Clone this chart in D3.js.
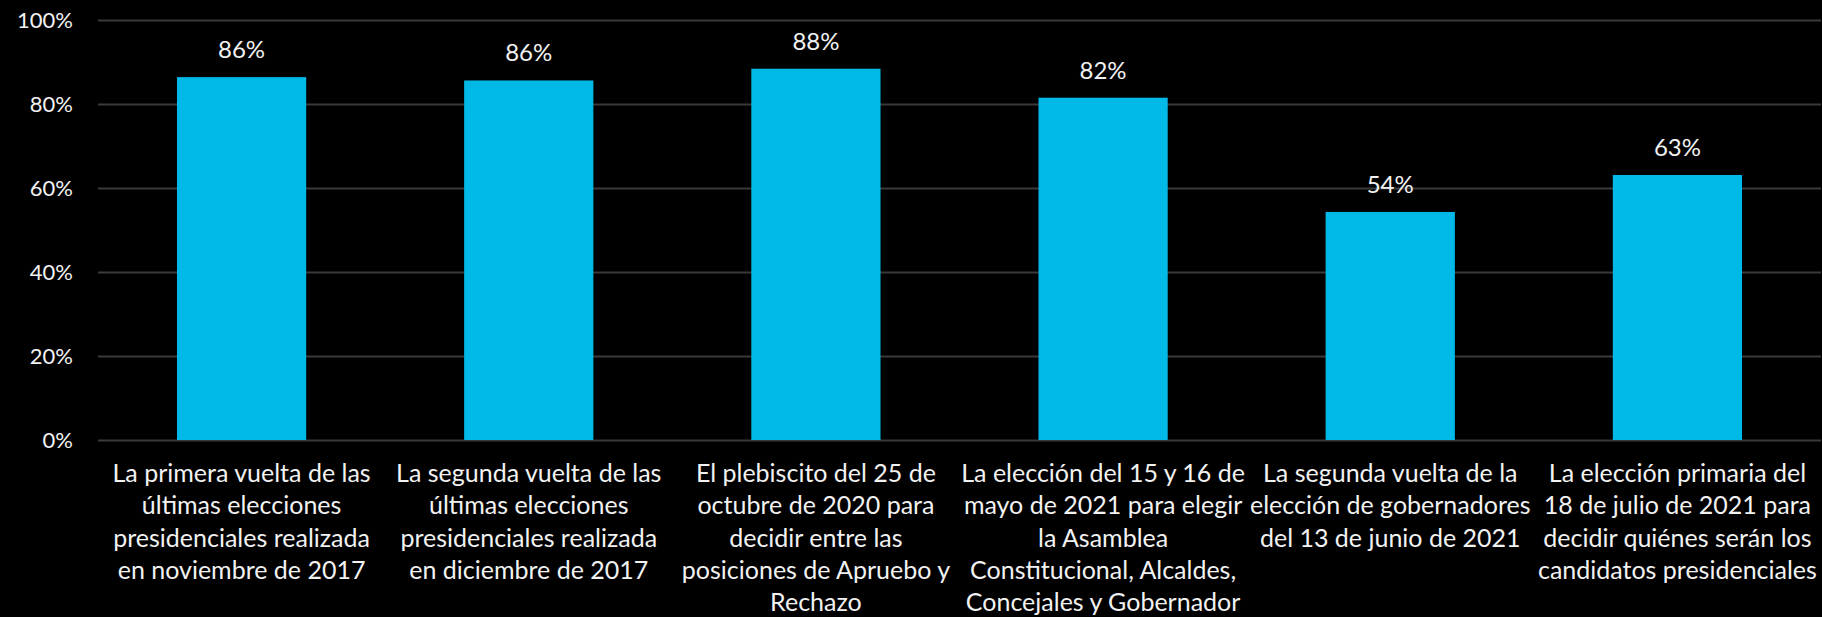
<!DOCTYPE html>
<html>
<head>
<meta charset="utf-8">
<script src="https://cdn.jsdelivr.net/npm/d3@7"></script>
<style>
  html, body { margin: 0; padding: 0; background: #000; }
  svg { display: block; }
</style>
</head>
<body>
<script>
// categories, one array of lines per bar
const categories = [
  ["La primera vuelta de las", "últimas elecciones", "presidenciales realizada", "en noviembre de 2017"],
  ["La segunda vuelta de las", "últimas elecciones", "presidenciales realizada", "en diciembre de 2017"],
  ["El plebiscito del 25 de", "octubre de 2020 para", "decidir entre las", "posiciones de Apruebo y", "Rechazo"],
  ["La elección del 15 y 16 de", "mayo de 2021 para elegir", "la Asamblea", "Constitucional, Alcaldes,", "Concejales y Gobernador"],
  ["La segunda vuelta de la", "elección de gobernadores", "del 13 de junio de 2021"],
  ["La elección primaria del", "18 de julio de 2021 para", "decidir quiénes serán los", "candidatos presidenciales"]
];
const values = [86.4, 85.6, 88.4, 81.5, 54.3, 63.1];
const valueLabels = ["86%", "86%", "88%", "82%", "54%", "63%"];
const yTicks = [0, 20, 40, 60, 80, 100];

const W = 1822, H = 617;
const margin = {top: 20, right: 1, bottom: 177, left: 98};
const width = W - margin.left - margin.right;
const height = H - margin.top - margin.bottom;
const font = "Lato, 'Open Sans', sans-serif";

const svg = d3.select("body").append("svg")
  .attr("width", W)
  .attr("height", H)
  .style("background", "#000");

const g = svg.append("g")
  .attr("transform", `translate(${margin.left},${margin.top})`);

const x = d3.scaleBand()
  .domain(d3.range(values.length))
  .range([0, width])
  .paddingInner(0.55)
  .paddingOuter(0.275);

const y = d3.scaleLinear()
  .domain([0, 100])
  .range([height, 0]);

// gridlines + y labels
const yAxis = g.append("g")
  .call(d3.axisLeft(y).tickValues(yTicks).tickSize(-width).tickFormat(d => d + "%").tickPadding(25));
yAxis.select(".domain").remove();
yAxis.selectAll(".tick line").attr("stroke", "#3a3a3a").attr("stroke-width", 2);
yAxis.selectAll(".tick text")
  .attr("fill", "#f2f2f2")
  .attr("font-family", font)
  .attr("font-size", 22);

// bars
g.append("g")
  .selectAll("rect")
  .data(values)
  .join("rect")
  .attr("x", (d, i) => x(i))
  .attr("y", d => y(d))
  .attr("width", x.bandwidth())
  .attr("height", d => height - y(d))
  .attr("fill", "#00B9E7");

// value labels
g.append("g")
  .selectAll("text")
  .data(values)
  .join("text")
  .attr("x", (d, i) => x(i) + x.bandwidth() / 2)
  .attr("y", d => y(d) - 19)
  .attr("text-anchor", "middle")
  .attr("fill", "#f2f2f2")
  .attr("font-family", font)
  .attr("font-size", 24)
  .text((d, i) => valueLabels[i]);

// category labels
const cat = g.append("g")
  .selectAll("text")
  .data(categories)
  .join("text")
  .attr("text-anchor", "middle")
  .attr("fill", "#f2f2f2")
  .attr("font-family", font)
  .attr("font-size", 25)
  .attr("transform", (d, i) => `translate(${x(i) + x.bandwidth() / 2},${height + 42})`);

cat.selectAll("tspan")
  .data(d => d)
  .join("tspan")
  .attr("x", 0)
  .attr("y", (d, j) => j * 32.3)
  .text(d => d);
</script>
</body>
</html>
